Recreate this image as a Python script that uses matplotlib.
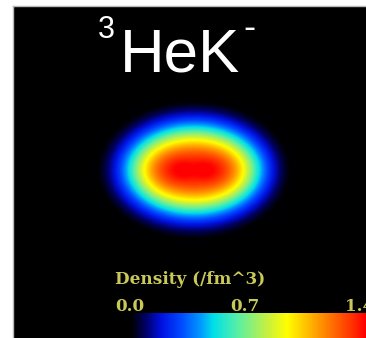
import numpy as np
import matplotlib
matplotlib.use("Agg")
import matplotlib.pyplot as plt
from matplotlib.colors import LinearSegmentedColormap, Normalize
from matplotlib.transforms import blended_transform_factory

# --- density model of the 3He K- bound system (fm units) ---
peak_density = 1.62                 # central density, /fm^3
half_radius_fm = (2.9, 1.85)        # half-density radius along x and y
diffuseness_fm = (0.70, 0.58)       # surface diffuseness along x and y

# --- colour scale ---
scale_max = 1.53
tick_values = [0.0, 0.7, 1.4]
tick_labels = ["0.0", "0.7", "1.4"]
cmap_stops = [0.0, 0.10, 0.18, 0.28, 0.40, 0.52, 0.60, 0.76, 0.93, 1.05, 1.23, 1.45, 1.53]
cmap_colors = ["#000000", "#000004", "#000060", "#0010e0", "#0048ff", "#0098ff",
               "#00e0e8", "#60f0a0", "#c8f040", "#ffff00", "#ffa000", "#ff3000",
               "#ff0000"]

W, H = 366, 338
fig = plt.figure(figsize=(W / 100, H / 100), dpi=100, facecolor="white")


def frame(x0, y0, x1, y1):
    return [x0 / W, 1 - y1 / H, (x1 - x0) / W, (y1 - y0) / H]


cmap = LinearSegmentedColormap.from_list(
    "density", list(zip(np.array(cmap_stops) / scale_max, cmap_colors)))
norm = Normalize(vmin=0.0, vmax=scale_max)

# main panel
ax = fig.add_axes(frame(13, 6, 366, 338))
ax.set_facecolor("black")
px_per_fm = 20.0
cx, cy = 194, 170
xlim = ((13 - cx) / px_per_fm, (366 - cx) / px_per_fm)
ylim = (-(338 - cy) / px_per_fm, (cy - 6) / px_per_fm)

xs = np.linspace(xlim[0], xlim[1], 500)
ys = np.linspace(ylim[0], ylim[1], 470)
X, Y = np.meshgrid(xs, ys)
r = np.hypot(X, Y)
theta = np.arctan2(Y, X)
c2, s2 = np.cos(theta) ** 2, np.sin(theta) ** 2
R = 1.0 / np.sqrt(c2 / half_radius_fm[0] ** 2 + s2 / half_radius_fm[1] ** 2)
a = diffuseness_fm[0] * c2 + diffuseness_fm[1] * s2
rho = peak_density / (1.0 + np.exp((r - R) / a))

ax.imshow(rho, extent=[xlim[0], xlim[1], ylim[0], ylim[1]], origin="lower",
          cmap=cmap, norm=norm, interpolation="bilinear", aspect="auto")
ax.set_xlim(*xlim)
ax.set_ylim(*ylim)
ax.set_xticks([])
ax.set_yticks([])
for side in ("right", "bottom"):
    ax.spines[side].set_visible(False)
for side in ("top", "left"):
    ax.spines[side].set_color("#b8b8b8")
    ax.spines[side].set_linewidth(1.0)

# colour bar strip
cb = fig.add_axes(frame(115, 313, 366, 338))
grad = np.linspace(0.0, scale_max, 512)[None, :]
cb.imshow(grad, extent=[0.0, scale_max, 0, 1], cmap=cmap, norm=norm,
          aspect="auto", interpolation="bilinear")
cb.set_xlim(0.0, scale_max)
cb.set_ylim(0, 1)
cb.axis("off")

label_color = "#c9c958"
tr = blended_transform_factory(cb.transData, cb.transAxes)
for v, lab in zip(tick_values, tick_labels):
    cb.text(v, (338 - 311) / 25, lab, transform=tr, ha="left", va="baseline",
            color=label_color, family="DejaVu Serif", fontsize=12.2,
            fontweight="bold", clip_on=False)
cb.text(0.0, (338 - 284) / 25, "Density (/fm^3)", transform=tr, ha="left",
        va="baseline", color=label_color, family="DejaVu Serif", fontsize=12.2,
        fontweight="bold", clip_on=False)

# title
fig.text(98 / W, 1 - 38 / H, "3", color="white", family="Liberation Sans",
         fontsize=22, va="baseline", ha="left")
fig.text(120 / W, 1 - 72 / H, "HeK", color="white", family="Liberation Sans",
         fontsize=44.5, va="baseline", ha="left")
fig.text(243 / W, 1 - 38 / H, "-", color="white", family="Liberation Sans",
         fontsize=26, va="baseline", ha="left")

fig.savefig("out.png", dpi=100, facecolor="white")
